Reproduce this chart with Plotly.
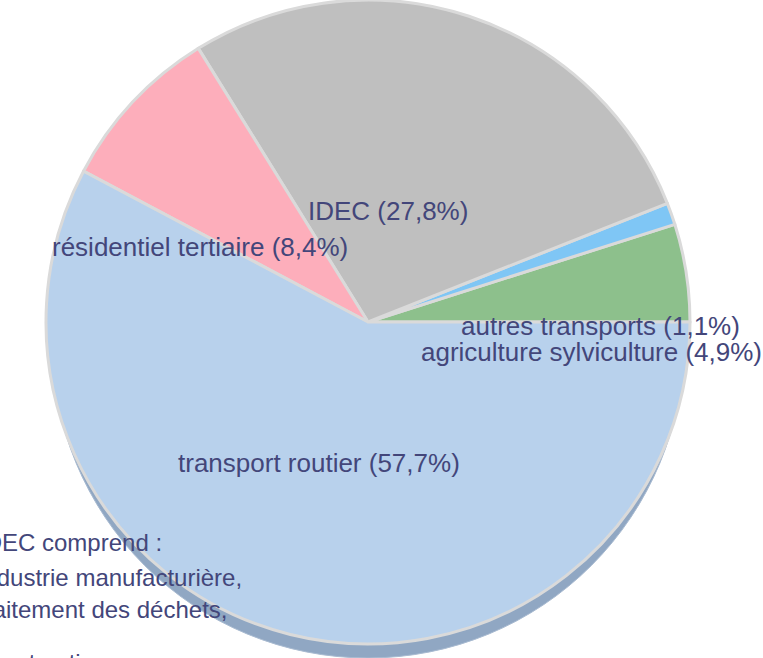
"""
Répartition des émissions par secteur (camembert façon 3D)
"""

import plotly.graph_objects as go

# Données
secteurs = ["agriculture sylviculture", "autres transports", "IDEC",
            "résidentiel tertiaire", "transport routier"]
parts = [4.9, 1.1, 27.8, 8.4, 57.7]
couleurs = ["#8dc08c", "#7fc6f5", "#bfbfbf", "#fdaebb", "#b8d1ec"]

note = ["IDEC comprend :", "industrie manufacturière,",
        "traitement des déchets,", "construction"]

W, H = 763, 658
POLICE = "Liberation Sans, Arial, sans-serif"
COULEUR_TEXTE = "#43467a"


def px_x(x):
    return x / W


def px_y(y):
    return 1 - y / H


def etiquette(nom, valeur):
    return "%s (%s%%)" % (nom, str(valeur).replace(".", ","))


fig = go.Figure()

# Ombre (épaisseur du camembert)
fig.add_trace(go.Pie(values=[sum(parts)],
                     labels=["ombre"],
                     marker=dict(colors=["#90a7c3"],
                                 line=dict(color="#a9bbd1", width=1)),
                     textinfo="none",
                     hoverinfo="skip",
                     sort=False,
                     domain=dict(x=[px_x(52), px_x(684)], y=[0, px_y(26)])))

# Camembert principal : le premier secteur part de 3 heures vers le haut
rotation = 90 - parts[0] / sum(parts) * 360
fig.add_trace(go.Pie(values=parts,
                     labels=secteurs,
                     marker=dict(colors=couleurs,
                                 line=dict(color="#dadada", width=3)),
                     textinfo="none",
                     sort=False,
                     direction="counterclockwise",
                     rotation=rotation,
                     domain=dict(x=[px_x(46), px_x(690)], y=[px_y(644), 1])))

# Étiquettes des secteurs
positions = {"IDEC": (388, 211),
             "résidentiel tertiaire": (200, 247),
             "autres transports": (600, 326),
             "agriculture sylviculture": (591, 352),
             "transport routier": (319, 463)}
for nom, valeur in zip(secteurs, parts):
    x, y = positions[nom]
    fig.add_annotation(x=px_x(x), y=px_y(y), xref="paper", yref="paper",
                       text=etiquette(nom, valeur), showarrow=False,
                       xanchor="center", yanchor="middle",
                       font=dict(family=POLICE, size=26, color=COULEUR_TEXTE))

# Note en bas à gauche
lignes_y = [542, 577, 609, 662]
for texte, y in zip(note, lignes_y):
    fig.add_annotation(x=px_x(-24), y=px_y(y), xref="paper", yref="paper",
                       text=texte, showarrow=False,
                       xanchor="left", yanchor="middle",
                       font=dict(family=POLICE, size=24, color=COULEUR_TEXTE))

fig.update_layout(width=W, height=H,
                  margin=dict(l=0, r=0, t=0, b=0),
                  paper_bgcolor="white",
                  plot_bgcolor="white",
                  showlegend=False)

# pas de marge autour du graphique dans la page
fig.write_html("out.html", config={"displayModeBar": False},
               post_script="document.body.style.margin = '0';")
